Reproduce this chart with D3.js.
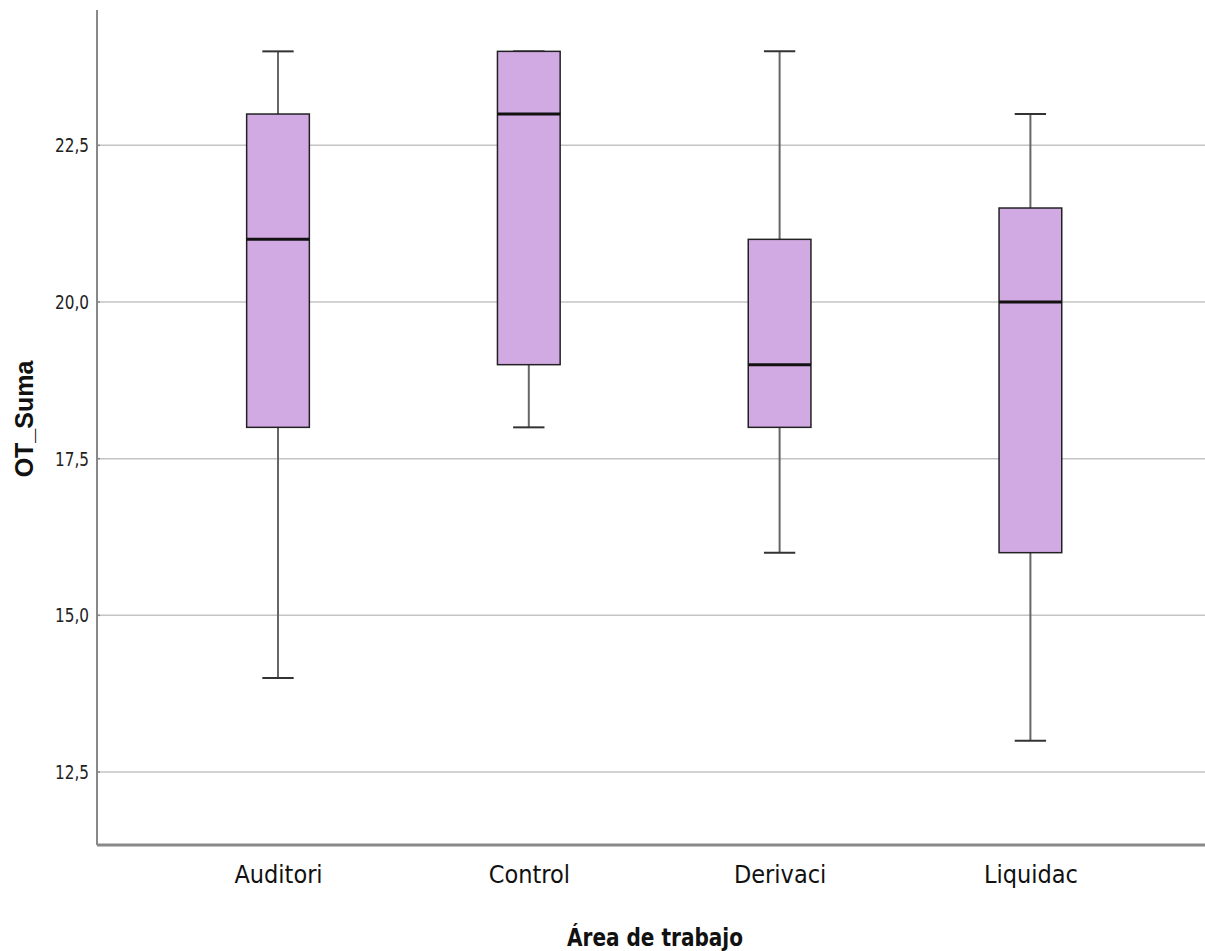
<!DOCTYPE html>
<html><head><meta charset="utf-8">
<script src="https://cdn.jsdelivr.net/npm/d3@7"></script>
<style>body{margin:0;background:#fff}svg{display:block}</style>
</head><body>
<svg id="c" width="1205" height="951"></svg>
<script>
const categories = ["Auditori", "Control", "Derivaci", "Liquidac"];
const mins    = [14, 18, 16, 13];
const q1s     = [18, 19, 18, 16];
const medians = [21, 23, 19, 20];
const q3s     = [23, 24, 21, 21.5];
const maxs    = [24, 24, 24, 23];
const yTicks  = [12.5, 15.0, 17.5, 20.0, 22.5];
const xTitle = "Área de trabajo";
const yTitle = "OT_Suma";

(function () {
const data = categories.map((c, i) => ({c, min: mins[i], q1: q1s[i], med: medians[i], q3: q3s[i], max: maxs[i]}));

const svg = d3.select("#c");
const pLeft = 97, pRight = 1205, pTop = 10, pBottom = 845;
const y = d3.scaleLinear().domain([11.335, 24.66]).range([pBottom, pTop]);
const x = d3.scalePoint().domain(categories).range([152.6, 1155.8]).padding(0.5);
const step = x.step();
const boxW = step * 0.25, capW = boxW / 2;

// gridlines
svg.append("g").selectAll("line").data(yTicks).join("line")
  .attr("x1", pLeft).attr("x2", pRight)
  .attr("y1", d => y(d)).attr("y2", d => y(d))
  .attr("stroke", "#c4c4c4").attr("stroke-width", 1.5);

// y axis
const yAxis = d3.axisLeft(y).tickValues(yTicks).tickSize(0).tickPadding(8)
  .tickFormat(d => d3.format(".1f")(d).replace(".", ","));
const gy = svg.append("g").attr("transform", `translate(${pLeft},0)`).call(yAxis);
gy.select(".domain").remove();
gy.selectAll("text").attr("font-family", "DejaVu Sans Condensed, DejaVu Sans").attr("font-stretch", "condensed")
  .attr("font-size", 20).attr("fill", "#222").attr("textLength", 34).attr("lengthAdjust", "spacingAndGlyphs");
svg.append("g").selectAll("line").data(yTicks).join("line")
  .attr("x1", pLeft).attr("x2", pLeft + 3).attr("y1", d => y(d)).attr("y2", d => y(d))
  .attr("stroke", "#888").attr("stroke-width", 1.5);
svg.append("line").attr("x1", pLeft).attr("x2", pLeft).attr("y1", pTop).attr("y2", pBottom)
  .attr("stroke", "#888").attr("stroke-width", 2);

// x axis
const xAxis = d3.axisBottom(x).tickSize(0).tickPadding(20);
const gx = svg.append("g").attr("transform", `translate(0,${pBottom})`).call(xAxis);
gx.select(".domain").remove();
gx.selectAll("text").attr("font-family", "DejaVu Sans Condensed, DejaVu Sans").attr("font-stretch", "condensed")
  .attr("font-size", 25).attr("fill", "#111");
svg.append("line").attr("x1", pLeft).attr("x2", pRight).attr("y1", pBottom).attr("y2", pBottom)
  .attr("stroke", "#888").attr("stroke-width", 3);

// boxes
const g = svg.append("g").selectAll("g").data(data).join("g")
  .attr("transform", d => `translate(${x(d.c)},0)`);
g.append("line").attr("x1", 0).attr("x2", 0).attr("y1", d => y(d.max)).attr("y2", d => y(d.q3))
  .attr("stroke", "#666").attr("stroke-width", 2);
g.append("line").attr("x1", 0).attr("x2", 0).attr("y1", d => y(d.q1)).attr("y2", d => y(d.min))
  .attr("stroke", "#666").attr("stroke-width", 2);
g.append("line").attr("x1", -capW/2).attr("x2", capW/2).attr("y1", d => y(d.max)).attr("y2", d => y(d.max))
  .attr("stroke", "#333").attr("stroke-width", 2);
g.append("line").attr("x1", -capW/2).attr("x2", capW/2).attr("y1", d => y(d.min)).attr("y2", d => y(d.min))
  .attr("stroke", "#333").attr("stroke-width", 2);
g.append("rect").attr("x", -boxW/2).attr("width", boxW)
  .attr("y", d => y(d.q3)).attr("height", d => y(d.q1) - y(d.q3))
  .attr("fill", "#d2aae3").attr("stroke", "#222").attr("stroke-width", 1.5);
g.append("line").attr("x1", -boxW/2).attr("x2", boxW/2).attr("y1", d => y(d.med)).attr("y2", d => y(d.med))
  .attr("stroke", "#111").attr("stroke-width", 3);

// titles
svg.append("text").attr("x", 655).attr("y", 946).attr("text-anchor", "middle")
  .attr("font-family", "DejaVu Sans Condensed, DejaVu Sans").attr("font-stretch", "condensed")
  .attr("font-weight", "bold").attr("font-size", 24).attr("fill", "#111")
  .attr("textLength", 176).attr("lengthAdjust", "spacingAndGlyphs").text(xTitle);
svg.append("text").attr("transform", "translate(33,419) rotate(-90)").attr("text-anchor", "middle")
  .attr("font-family", "Liberation Sans, Arial").attr("font-weight", "bold").attr("font-size", 25)
  .attr("fill", "#111").text(yTitle);
})();
</script>
</body></html>
